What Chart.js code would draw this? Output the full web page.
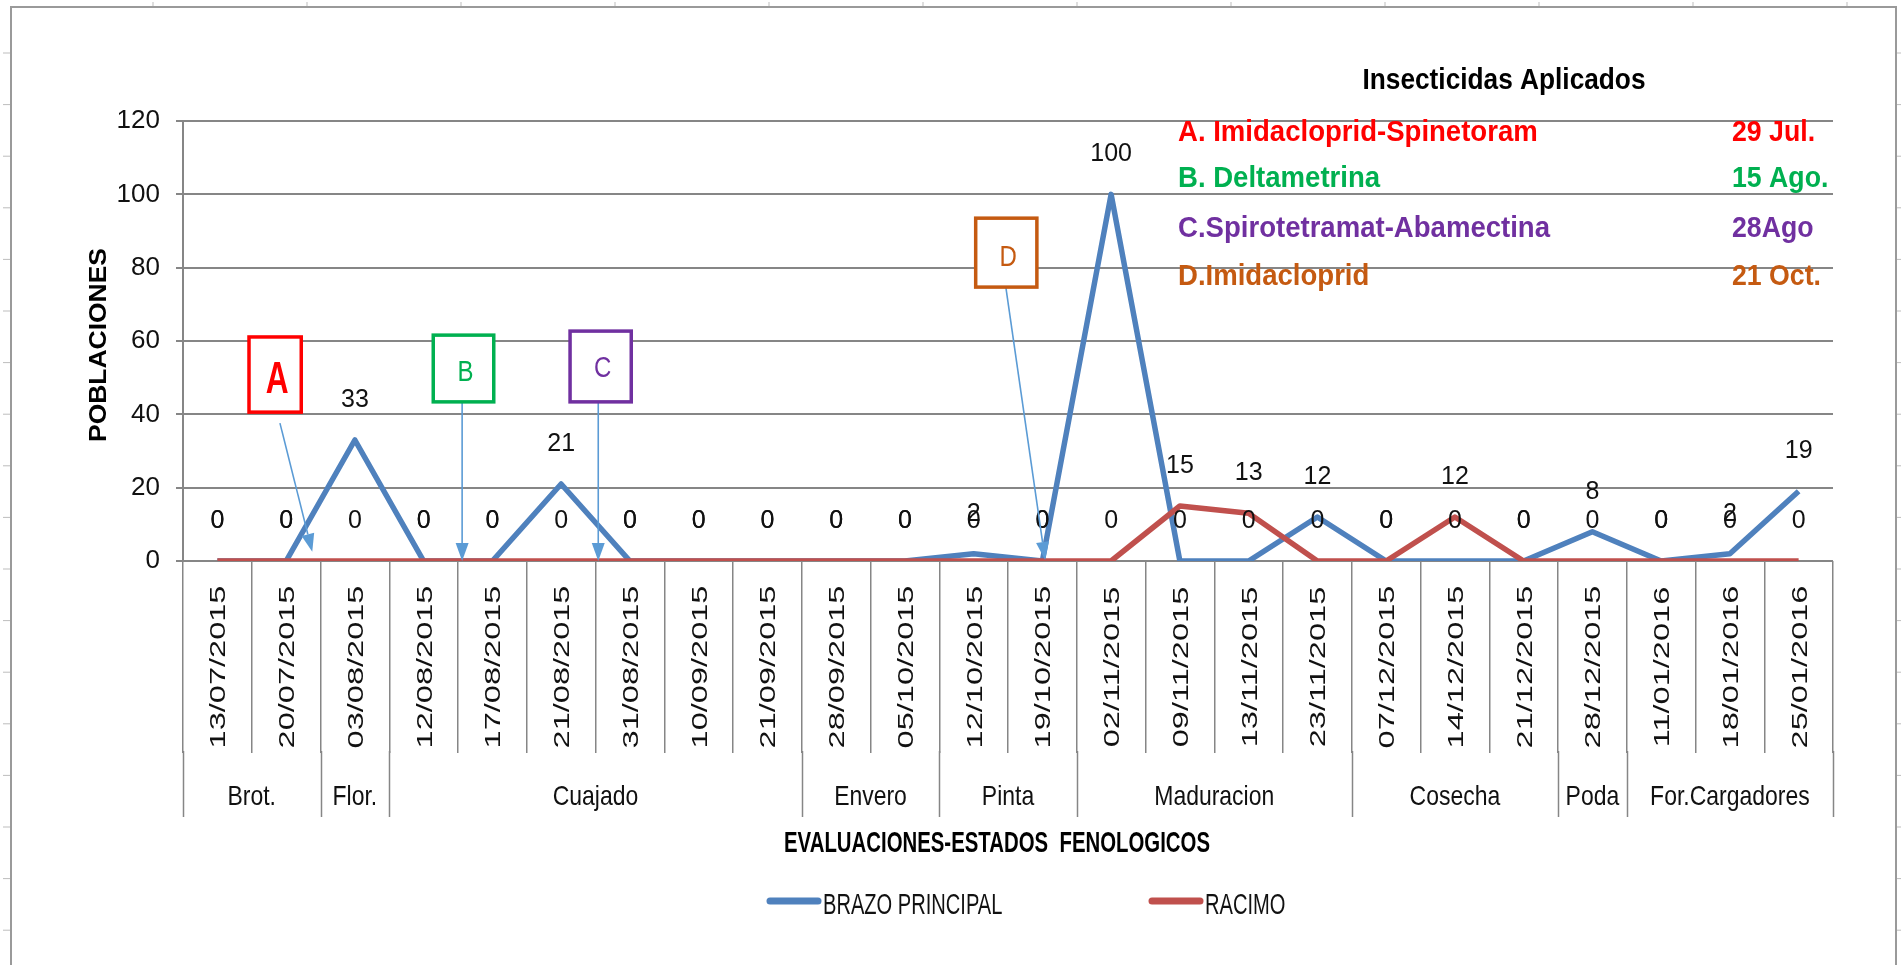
<!DOCTYPE html>
<html>
<head>
<meta charset="utf-8">
<script src="https://cdn.jsdelivr.net/npm/chart.js@4.4.1/dist/chart.umd.min.js"></script>
<style>
  html, body { margin: 0; padding: 0; background: #fff; overflow: hidden; }
  canvas { display: block; }
</style>
</head>
<body>
<canvas id="grafico" width="1901" height="965"></canvas>
<script>
// fechas de evaluacion (categorias)
const fechas = ['13/07/2015', '20/07/2015', '03/08/2015', '12/08/2015', '17/08/2015', '21/08/2015',
  '31/08/2015', '10/09/2015', '21/09/2015', '28/09/2015', '05/10/2015', '12/10/2015', '19/10/2015',
  '02/11/2015', '09/11/2015', '13/11/2015', '23/11/2015', '07/12/2015', '14/12/2015', '21/12/2015',
  '28/12/2015', '11/01/2016', '18/01/2016', '25/01/2016'];

// poblaciones por evaluacion
const brazoPrincipal = [0, 0, 33, 0, 0, 21, 0, 0, 0, 0, 0, 2, 0, 100, 0, 0, 12, 0, 0, 0, 8, 0, 2, 19];
const racimo = [0, 0, 0, 0, 0, 0, 0, 0, 0, 0, 0, 0, 0, 0, 15, 13, 0, 0, 12, 0, 0, 0, 0, 0];

const yTicks = [0, 20, 40, 60, 80, 100, 120];

// estados fenologicos (primera y ultima evaluacion de cada uno)
const estados = ['Brot.', 'Flor.', 'Cuajado', 'Envero', 'Pinta', 'Maduracion', 'Cosecha', 'Poda', 'For.Cargadores'];
const estadoDesde = [0, 2, 3, 9, 11, 13, 17, 20, 21];
const estadoHasta = [1, 2, 8, 10, 12, 16, 19, 20, 23];

// insecticidas aplicados
const letras = ['A', 'B', 'C', 'D'];
const insecticidas = ['A. Imidacloprid-Spinetoram', 'B. Deltametrina', 'C.Spirotetramat-Abamectina', 'D.Imidacloprid'];
const fechasAplicacion = ['29 Jul.', '15 Ago.', '28Ago', '21 Oct.'];

// estilos
const AZUL = '#4F81BD';
const ROJO = '#C0504D';
const GRIS = '#868686';
const FLECHA = '#5B9BD5';
const coloresIns = ['#FF0000', '#00B050', '#7030A0', '#C55A11'];
const FAM = "'Liberation Sans', Arial, sans-serif";

// cajas de las letras en unidades del grafico (indice de categoria, valor)
const cajas = [
  { x0: 0.46, x1: 1.22, y0: 40.6, y1: 61.1, fx: 0.91, fy: 37.6, tx: 1.38, ty: 2.5, font: 'bold 44px', sx: 0.72, dy: 6 },
  { x0: 3.14, x1: 4.02, y0: 43.4, y1: 61.6, fx: 3.56, fy: 43.4, tx: 3.56, ty: 0, font: '30px', sx: 0.8, dy: 4 },
  { x0: 5.13, x1: 6.02, y0: 43.4, y1: 62.7, fx: 5.54, fy: 43.4, tx: 5.54, ty: 0, font: '30px', sx: 0.8, dy: 2 },
  { x0: 11.03, x1: 11.92, y0: 74.7, y1: 93.5, fx: 11.47, fy: 74.5, tx: 12.04, ty: 0.3, font: '30px', sx: 0.8, dy: 5 }
];

function texto(ctx, s, x, y, o) {
  ctx.save();
  ctx.translate(x, y);
  if (o.rot) ctx.rotate(o.rot);
  ctx.font = o.font + ' ' + FAM;
  let sx = o.sx || 1;
  if (o.w) sx = o.w / ctx.measureText(s).width;
  ctx.scale(sx, 1);
  ctx.fillStyle = o.color || '#000';
  ctx.textAlign = o.align || 'center';
  ctx.textBaseline = 'middle';
  ctx.fillText(s, 0, 0);
  ctx.restore();
}

function flecha(ctx, x1, y1, x2, y2) {
  const a = Math.atan2(y2 - y1, x2 - x1), L = 18, W = 6.5;
  const bx = x2 - L * Math.cos(a), by = y2 - L * Math.sin(a);
  ctx.save();
  ctx.strokeStyle = FLECHA;
  ctx.fillStyle = FLECHA;
  ctx.lineWidth = 1.6;
  ctx.beginPath(); ctx.moveTo(x1, y1); ctx.lineTo(bx, by); ctx.stroke();
  ctx.beginPath();
  ctx.moveTo(x2, y2);
  ctx.lineTo(bx + W * Math.sin(a), by - W * Math.cos(a));
  ctx.lineTo(bx - W * Math.sin(a), by + W * Math.cos(a));
  ctx.closePath(); ctx.fill();
  ctx.restore();
}

const decoracion = {
  id: 'decoracion',
  beforeDraw(chart) {
    const ctx = chart.ctx;
    ctx.save();
    ctx.fillStyle = '#fff';
    ctx.fillRect(0, 0, chart.width, chart.height);
    // marco de la hoja
    ctx.strokeStyle = '#bdbdbd'; ctx.lineWidth = 1;
    for (let y = 53; y < chart.height; y += 51.6) {
      ctx.beginPath(); ctx.moveTo(3, y); ctx.lineTo(10, y); ctx.stroke();
      ctx.beginPath(); ctx.moveTo(1897, y); ctx.lineTo(1901, y); ctx.stroke();
    }
    for (let x = 153; x < 1890; x += 154) {
      ctx.beginPath(); ctx.moveTo(x, 2); ctx.lineTo(x, 7); ctx.stroke();
    }
    ctx.strokeStyle = '#9a9a9a'; ctx.lineWidth = 2;
    ctx.beginPath();
    ctx.moveTo(11, chart.height); ctx.lineTo(11, 7); ctx.lineTo(1896, 7); ctx.lineTo(1896, chart.height);
    ctx.stroke();
    ctx.restore();
  },
  afterDatasetsDraw(chart) {
    const ctx = chart.ctx, xs = chart.scales.x, ys = chart.scales.y;
    // etiquetas de datos
    chart.data.datasets.forEach(ds => {
      ds.data.forEach((v, i) => {
        texto(ctx, String(v), xs.getPixelForValue(i), ys.getPixelForValue(v) - 40, { font: '25px', color: '#111' });
      });
    });
    // cajas y flechas
    cajas.forEach((c, i) => {
      const x0 = xs.getPixelForValue(c.x0), x1 = xs.getPixelForValue(c.x1);
      const y0 = ys.getPixelForValue(c.y1), y1 = ys.getPixelForValue(c.y0);
      flecha(ctx, xs.getPixelForValue(c.fx), ys.getPixelForValue(c.fy), xs.getPixelForValue(c.tx), ys.getPixelForValue(c.ty));
      ctx.save();
      ctx.fillStyle = '#fff';
      ctx.fillRect(x0, y0, x1 - x0, y1 - y0);
      ctx.strokeStyle = coloresIns[i]; ctx.lineWidth = 3.5;
      ctx.strokeRect(x0, y0, x1 - x0, y1 - y0);
      ctx.restore();
      texto(ctx, letras[i], (x0 + x1) / 2 + 2, (y0 + y1) / 2 + c.dy, { font: c.font, sx: c.sx, color: coloresIns[i] });
    });
  },
  afterDraw(chart) {
    const ctx = chart.ctx, xs = chart.scales.x, area = chart.chartArea;
    // fechas rotadas
    fechas.forEach((f, i) => {
      texto(ctx, f, xs.getPixelForValue(i) + 2, 667, { font: '22px', rot: -Math.PI / 2, sx: 1.48, color: '#111' });
    });
    // estados fenologicos
    ctx.save();
    ctx.strokeStyle = GRIS; ctx.lineWidth = 1.5;
    const bordes = new Set([0]);
    estadoHasta.forEach(h => bordes.add(h + 1));
    bordes.forEach(k => {
      const x = Math.round(xs.getPixelForValue(k - 0.5)) + 0.5;
      ctx.beginPath(); ctx.moveTo(x, area.bottom + 190); ctx.lineTo(x, 817); ctx.stroke();
    });
    ctx.restore();
    estados.forEach((e, i) => {
      const xc = (xs.getPixelForValue(estadoDesde[i] - 0.5) + xs.getPixelForValue(estadoHasta[i] + 0.5)) / 2;
      texto(ctx, e, xc, 797, { font: '28px', sx: 0.82, color: '#111' });
    });
    // titulos de ejes
    texto(ctx, 'EVALUACIONES-ESTADOS  FENOLOGICOS', 997, 844, { font: 'bold 30px', w: 426 });
    texto(ctx, 'POBLACIONES', 100, 345, { font: 'bold 23px', rot: -Math.PI / 2, sx: 1.15 });
    // cuadro de insecticidas
    texto(ctx, 'Insecticidas Aplicados', 1504, 81, { font: 'bold 30px', w: 283 });
    const filas = [133, 179, 229, 277];
    insecticidas.forEach((s, i) => {
      texto(ctx, s, 1178, filas[i], { font: 'bold 29px', sx: 0.95, align: 'left', color: coloresIns[i] });
      texto(ctx, fechasAplicacion[i], 1732, filas[i], { font: 'bold 29px', sx: 0.92, align: 'left', color: coloresIns[i] });
    });
    // leyenda
    const lx = [767, 1149];
    chart.data.datasets.forEach((ds, i) => {
      ctx.save();
      ctx.strokeStyle = ds.borderColor; ctx.lineWidth = 7; ctx.lineCap = 'round';
      ctx.beginPath(); ctx.moveTo(lx[i] + 3, 901); ctx.lineTo(lx[i] + 51, 901); ctx.stroke();
      ctx.restore();
      texto(ctx, ds.label, lx[i] + 56, 906, { font: '30px', sx: 0.67, align: 'left', color: '#111' });
    });
  }
};

new Chart(document.getElementById('grafico').getContext('2d'), {
  type: 'line',
  data: {
    labels: fechas,
    datasets: [
      { label: 'BRAZO PRINCIPAL', data: brazoPrincipal, borderColor: AZUL, backgroundColor: AZUL,
        borderWidth: 5.5, pointRadius: 0, tension: 0, borderJoinStyle: 'round', order: 1 },
      { label: 'RACIMO', data: racimo, borderColor: ROJO, backgroundColor: ROJO,
        borderWidth: 5.5, pointRadius: 0, tension: 0, borderJoinStyle: 'round', order: 0 }
    ]
  },
  options: {
    responsive: false,
    animation: false,
    devicePixelRatio: 1,
    layout: { padding: { left: 103, right: 68, top: 121, bottom: 212 } },
    plugins: { legend: { display: false }, tooltip: { enabled: false } },
    scales: {
      x: {
        offset: true,
        grid: { offset: true, drawOnChartArea: false, drawTicks: true, tickLength: 192, color: GRIS, lineWidth: 1.5 },
        border: { display: false },
        ticks: { display: false }
      },
      y: {
        min: 0,
        max: 120,
        afterBuildTicks: s => { s.ticks = yTicks.map(v => ({ value: v })); },
        afterFit: s => { s.width = 80; },
        grid: { color: GRIS, lineWidth: 2, tickLength: 7 },
        border: { color: GRIS, width: 2 },
        ticks: { padding: 16, color: '#111', font: { family: "'Liberation Sans Narrow', 'Liberation Sans', sans-serif", size: 26 } }
      }
    }
  },
  plugins: [decoracion]
});
</script>
</body>
</html>
